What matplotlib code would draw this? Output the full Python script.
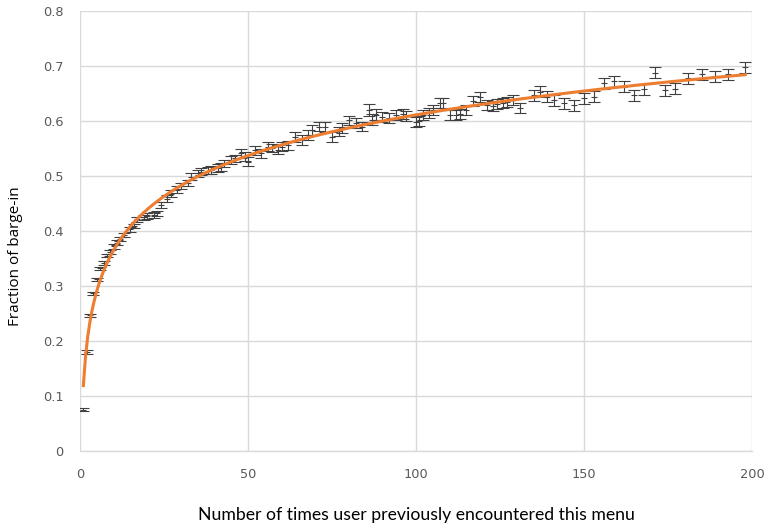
import numpy as np
import matplotlib
matplotlib.use('Agg')
import matplotlib.pyplot as plt

# ── data ──────────────────────────────────────────────────────────────────────
encounters = [1, 2, 3, 4, 5, 6, 7, 8, 9, 10, 11, 12, 13, 15, 16, 17, 19, 20,
              22, 23, 24, 26, 27, 29, 30, 32, 33, 35, 36, 38, 39, 41, 42, 43,
              45, 46, 48, 49, 50, 52, 54, 56, 57, 59, 60, 62, 64, 66, 68, 69,
              71, 73, 75, 77, 78, 80, 82, 84, 86, 87, 88, 90, 92, 94, 96, 97,
              100, 101, 102, 104, 105, 107, 108, 110, 112, 113, 115, 117, 119,
              121, 123, 124, 126, 127, 129, 131, 135, 137, 139, 141, 144, 147,
              150, 153, 156, 159, 162, 165, 168, 171, 174, 177, 181, 185, 189,
              193, 198]

barge_in = [0.075, 0.180, 0.247, 0.287, 0.312, 0.332, 0.342, 0.355, 0.362,
            0.372, 0.379, 0.385, 0.393, 0.403, 0.409, 0.421, 0.425, 0.427,
            0.429, 0.432, 0.447, 0.459, 0.468, 0.475, 0.482, 0.487, 0.499,
            0.505, 0.508, 0.510, 0.511, 0.514, 0.516, 0.523, 0.529, 0.532,
            0.541, 0.536, 0.526, 0.547, 0.541, 0.553, 0.551, 0.548, 0.553,
            0.556, 0.571, 0.565, 0.575, 0.584, 0.590, 0.589, 0.571, 0.581,
            0.587, 0.601, 0.596, 0.590, 0.620, 0.602, 0.611, 0.608, 0.605,
            0.611, 0.613, 0.609, 0.599, 0.600, 0.611, 0.614, 0.620, 0.632,
            0.632, 0.611, 0.611, 0.613, 0.620, 0.637, 0.644, 0.629, 0.627,
            0.631, 0.632, 0.635, 0.639, 0.623, 0.647, 0.653, 0.644, 0.638,
            0.632, 0.629, 0.641, 0.644, 0.669, 0.672, 0.662, 0.647, 0.658,
            0.688, 0.656, 0.659, 0.678, 0.685, 0.681, 0.685, 0.698]

err = [0.003, 0.003, 0.003, 0.003, 0.003, 0.003, 0.003, 0.003, 0.003,
       0.004, 0.004, 0.004, 0.004, 0.004, 0.004, 0.005, 0.005, 0.005,
       0.005, 0.005, 0.005, 0.006, 0.006, 0.006, 0.006, 0.006, 0.006,
       0.006, 0.007, 0.007, 0.007, 0.007, 0.007, 0.007, 0.007, 0.007,
       0.008, 0.008, 0.008, 0.008, 0.008, 0.008, 0.008, 0.008, 0.008,
       0.008, 0.009, 0.009, 0.009, 0.009, 0.009, 0.009, 0.009, 0.009,
       0.009, 0.009, 0.009, 0.009, 0.011, 0.010, 0.010, 0.009, 0.009,
       0.009, 0.009, 0.009, 0.009, 0.009, 0.009, 0.009, 0.009, 0.009,
       0.009, 0.009, 0.009, 0.009, 0.009, 0.009, 0.009, 0.009, 0.009,
       0.009, 0.009, 0.009, 0.009, 0.009, 0.010, 0.010, 0.010, 0.010,
       0.010, 0.010, 0.010, 0.010, 0.010, 0.010, 0.010, 0.010, 0.010,
       0.010, 0.010, 0.010, 0.010, 0.010, 0.010, 0.010, 0.010]

x = np.array(encounters, dtype=float)
y = np.array(barge_in)

# logarithmic trendline (Excel-style)
a, b = np.polyfit(np.log(x), y, 1)
x_fit = np.linspace(x.min(), x.max(), 300)
y_fit = a * np.log(x_fit) + b

GRID = '#D9D9D9'
TICK = '#595959'

fig = plt.figure(figsize=(7.67, 5.27), dpi=100)
ax = fig.add_axes([0.1043, 0.1442, 0.8761, 0.8349])

ax.errorbar(x, y, yerr=err, fmt='_', color='#404040', ecolor='#404040',
            elinewidth=0.8, capsize=4.5, capthick=0.8, markersize=5,
            markeredgewidth=0.8, zorder=3)
ax.plot(x_fit, y_fit, color='#ED7D31', linewidth=2.2, zorder=4)

ax.set_xlim(0, 200)
ax.set_ylim(0, 0.8)
ax.set_xticks([0, 50, 100, 150, 200])
ax.set_yticks(np.arange(0, 0.81, 0.1))
ax.set_yticklabels(['0', '0.1', '0.2', '0.3', '0.4', '0.5', '0.6', '0.7', '0.8'])

ax.grid(True, color=GRID, linewidth=1.0, zorder=0)
ax.set_axisbelow(True)
for side in ('top', 'right', 'left'):
    ax.spines[side].set_visible(False)
ax.spines['bottom'].set_color(GRID)
ax.spines['bottom'].set_linewidth(1.0)
ax.tick_params(length=0, labelsize=9.3, labelcolor=TICK, pad=12)
for lbl in ax.get_xticklabels() + ax.get_yticklabels():
    lbl.set_family('DejaVu Sans')

ax.set_xlabel('Number of times user previously encountered this menu',
              fontsize=12.7, family='Lato', labelpad=19)
ax.set_ylabel('Fraction of barge-in', fontsize=11, family='Open Sans',
              labelpad=14, y=0.443)

fig.savefig('out.png', dpi=100)
